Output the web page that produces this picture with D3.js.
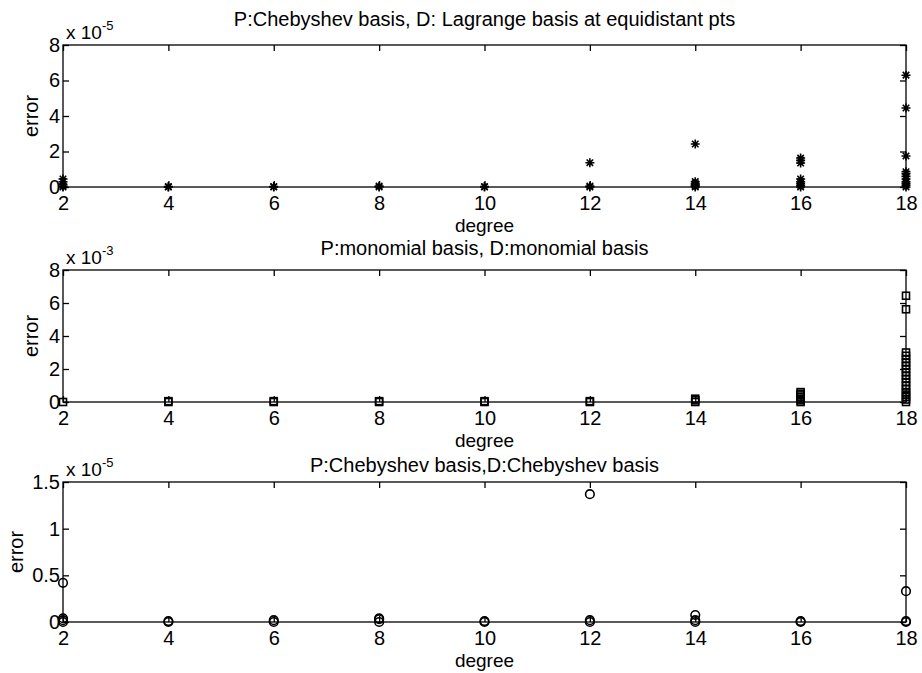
<!DOCTYPE html>
<html>
<head>
<meta charset="utf-8">
<script src="https://cdn.jsdelivr.net/npm/d3@7"></script>
<style>
body { margin: 0; background: #fff; }
text { font-family: "Liberation Sans", Arial, sans-serif; fill: #000; }
</style>
</head>
<body>
<svg id="fig" width="922" height="673"></svg>
<script>
// polynomial degrees on the x axis
var degrees = [2, 4, 6, 8, 10, 12, 14, 16, 18];

// top panel, errors in units of 1e-5 (star markers)
var errLagrange = [
  [0, 0.05, 0.15, 0.3, 0.45],
  [0, 0.02],
  [0, 0.03],
  [0, 0.05],
  [0, 0.03],
  [0, 0.05, 1.37],
  [0, 0.05, 0.12, 0.2, 0.3, 2.42],
  [0, 0.1, 0.2, 0.3, 0.45, 1.35, 1.5, 1.63],
  [0, 0.1, 0.2, 0.3, 0.45, 0.6, 0.75, 0.86, 1.75, 4.45, 6.3]
];

// middle panel, errors in units of 1e-3 (square markers)
var errMonomial = [
  [0],
  [0, 0.05],
  [0, 0.05],
  [0, 0.05],
  [0, 0.05],
  [0, 0.05],
  [0, 0.1, 0.2],
  [0, 0.1, 0.2, 0.3, 0.4, 0.5, 0.6],
  [0, 0.15, 0.3, 0.45, 0.6, 0.8, 1.0, 1.2, 1.4, 1.6, 1.8, 2.0, 2.2, 2.4, 2.6, 2.8, 3.0, 5.62, 6.44]
];

// bottom panel, errors in units of 1e-5 (circle markers)
var errChebyshev = [
  [0, 0.02, 0.04, 0.42],
  [0, 0.01],
  [0, 0.02],
  [0, 0.03, 0.04],
  [0, 0.01],
  [0, 0.02, 1.37],
  [0, 0.02, 0.075],
  [0, 0.01],
  [0, 0.01, 0.33]
];

var titles = [
  "P:Chebyshev basis, D: Lagrange basis at equidistant pts",
  "P:monomial basis, D:monomial basis",
  "P:Chebyshev basis,D:Chebyshev basis"
];
var exponents = ["-5", "-3", "-5"];
var yTicksTop = [0, 2, 4, 6, 8];
var yTicksMid = [0, 2, 4, 6, 8];
var yTicksBot = [0, 0.5, 1, 1.5];

var svg = d3.select("#fig");
var left = 63, right = 906;

var x = d3.scaleLinear().domain([2, 18]).range([left, right]);

var panels = [
  {top: 45,  bottom: 187, ymax: 8,   ticks: yTicksTop, data: errLagrange,  marker: "star",   titleY: 26,  labelX: 38},
  {top: 270, bottom: 402, ymax: 8,   ticks: yTicksMid, data: errMonomial,  marker: "square", titleY: 255, labelX: 38},
  {top: 482, bottom: 622, ymax: 1.5, ticks: yTicksBot, data: errChebyshev, marker: "circle", titleY: 472, labelX: 23}
];

function starPath(r) {
  var d = r * 0.72;
  return "M" + (-r) + ",0L" + r + ",0M0," + (-r) + "L0," + r +
         "M" + (-d) + "," + (-d) + "L" + d + "," + d +
         "M" + (-d) + "," + d + "L" + d + "," + (-d);
}

panels.forEach(function(p, i) {
  var y = d3.scaleLinear().domain([0, p.ymax]).range([p.bottom, p.top]);
  var g = svg.append("g");

  // box
  g.append("rect")
    .attr("x", left).attr("y", p.top)
    .attr("width", right - left).attr("height", p.bottom - p.top)
    .attr("fill", "none").attr("stroke", "#000").attr("stroke-width", 1.3);

  // bottom axis with labels, ticks pointing inward
  var xb = g.append("g").attr("transform", "translate(0," + p.bottom + ")")
    .call(d3.axisBottom(x).tickValues(degrees).tickSizeInner(-6).tickSizeOuter(0).tickPadding(9));
  var xt = g.append("g").attr("transform", "translate(0," + p.top + ")")
    .call(d3.axisTop(x).tickValues(degrees).tickSizeInner(-6).tickSizeOuter(0).tickFormat(""));
  var yl = g.append("g").attr("transform", "translate(" + left + ",0)")
    .call(d3.axisLeft(y).tickValues(p.ticks).tickSizeInner(-6).tickSizeOuter(0).tickPadding(3)
      .tickFormat(d3.format("~g")));
  var yr = g.append("g").attr("transform", "translate(" + right + ",0)")
    .call(d3.axisRight(y).tickValues(p.ticks).tickSizeInner(-6).tickSizeOuter(0).tickFormat(""));

  [xb, xt, yl, yr].forEach(function(a) {
    a.select(".domain").remove();
    a.selectAll(".tick line").attr("stroke", "#000").attr("stroke-width", 1.3);
    a.selectAll(".tick text").style("font-size", "20px").attr("fill", "#000");
  });

  // markers
  var pts = [];
  p.data.forEach(function(vals, j) {
    vals.forEach(function(v) { pts.push({d: degrees[j], v: v}); });
  });

  var m = g.append("g").attr("fill", "none").attr("stroke", "#000").attr("stroke-width", 1.6);
  if (p.marker === "star") {
    m.selectAll("path").data(pts).enter().append("path")
      .attr("transform", function(d) { return "translate(" + x(d.d) + "," + y(d.v) + ")"; })
      .attr("d", starPath(4.5));
  } else if (p.marker === "square") {
    m.selectAll("rect").data(pts).enter().append("rect")
      .attr("x", function(d) { return x(d.d) - 3.5; })
      .attr("y", function(d) { return y(d.v) - 3.5; })
      .attr("width", 7).attr("height", 7);
  } else {
    m.selectAll("circle").data(pts).enter().append("circle")
      .attr("cx", function(d) { return x(d.d); })
      .attr("cy", function(d) { return y(d.v); })
      .attr("r", 4.3);
  }

  // title
  g.append("text")
    .attr("x", (left + right) / 2).attr("y", p.titleY)
    .attr("text-anchor", "middle").style("font-size", "20px")
    .text(titles[i]);

  // exponent label
  var ex = g.append("text").attr("x", left + 3).attr("y", p.top - 6).style("font-size", "19px");
  ex.append("tspan").text("x 10");
  ex.append("tspan").attr("dy", -9).style("font-size", "13px").text(exponents[i]);

  // axis labels
  g.append("text")
    .attr("x", (left + right) / 2).attr("y", p.bottom + 45)
    .attr("text-anchor", "middle").style("font-size", "19px")
    .text("degree");
  g.append("text")
    .attr("transform", "translate(" + p.labelX + "," + ((p.top + p.bottom) / 2) + ") rotate(-90)")
    .attr("text-anchor", "middle").style("font-size", "20px")
    .text("error");
});
</script>
</body>
</html>
